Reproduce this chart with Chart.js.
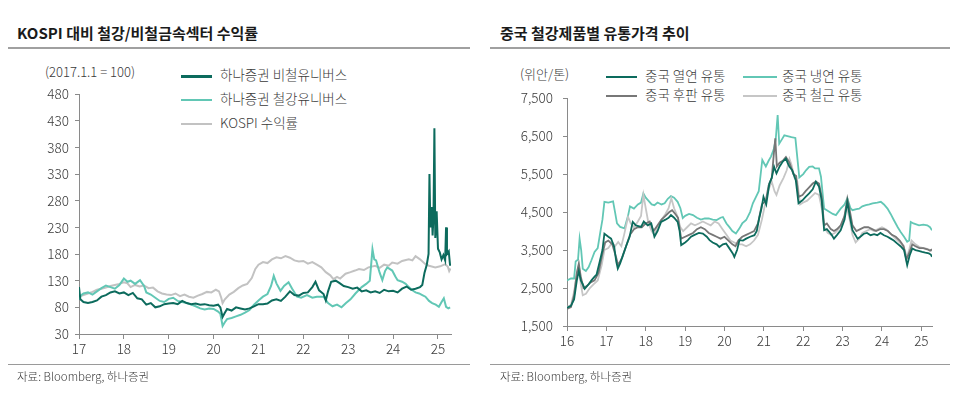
<!DOCTYPE html>
<html>
<head>
<meta charset="utf-8">
<script src="https://cdn.jsdelivr.net/npm/chart.js@4.4.1/dist/chart.umd.min.js"></script>
<style>
    body { margin: 0; width: 960px; height: 395px; background: #fff; position: relative; overflow: hidden;
           font-family: 'Noto Sans CJK KR', 'Noto Sans', sans-serif; color: #333; }
    .abs { position: absolute; white-space: nowrap; }
    .title { font-size: 15px; font-weight: bold; color: #1a1a1a; }
    .rule { height: 2px; background: #a0a0a0; }
    .rule.thin { height: 1px; background: #9a9a9a; }
    .source { font-size: 11.5px; color: #3a3a3a; font-weight: 300; }
    .unit { font-size: 13px; color: #3a3a3a; font-weight: 300; }
    .legend { font-size: 13.5px; color: #3a3a3a; line-height: 16px; font-weight: 300; }
    .legend i { display: inline-block; width: 31px; height: 0; vertical-align: middle; margin-right: 8px; }
    canvas { position: absolute; }
</style>
</head>
<body>
<div class="abs title" style="left:17px; top:22px;">KOSPI 대비 철강/비철금속섹터 수익률</div>
<div class="abs rule" style="left:8px; top:47px; width:462px;"></div>
<div class="abs unit" style="left:45px; top:62px;">(2017.1.1 = 100)</div>
<div class="abs legend" style="left:181px; top:66px;"><i style="border-top:3px solid #0c6b5d"></i>하나증권 비철유니버스</div>
<div class="abs legend" style="left:181px; top:90px;"><i style="border-top:2px solid #62c7b5"></i>하나증권 철강유니버스</div>
<div class="abs legend" style="left:181px; top:114px;"><i style="border-top:2px solid #c2c2c2"></i>KOSPI 수익률</div>
<canvas id="leftChart" width="470" height="290" style="left:0; top:80px;"></canvas>
<div class="abs rule thin" style="left:8px; top:364px; width:462px;"></div>
<div class="abs source" style="left:17px; top:368px;">자료: Bloomberg, 하나증권</div>

<div class="abs title" style="left:500px; top:22px;">중국 철강제품별 유통가격 추이</div>
<div class="abs rule" style="left:490px; top:47px; width:460px;"></div>
<div class="abs unit" style="left:520px; top:64px;">(위안/톤)</div>
<div class="abs legend" style="left:606px; top:67px;"><i style="border-top:2.5px solid #0c6b5d"></i>중국 열연 유통</div>
<div class="abs legend" style="left:743px; top:67px;"><i style="border-top:2px solid #62c7b5; width:34px; margin-right:5px"></i>중국 냉연 유통</div>
<div class="abs legend" style="left:606px; top:86px;"><i style="border-top:2.5px solid #777777"></i>중국 후판 유통</div>
<div class="abs legend" style="left:743px; top:86px;"><i style="border-top:2.5px solid #c6c6c6; width:34px; margin-right:5px"></i>중국 철근 유통</div>
<canvas id="rightChart" width="470" height="290" style="left:490px; top:80px;"></canvas>
<div class="abs rule thin" style="left:490px; top:364px; width:460px;"></div>
<div class="abs source" style="left:500px; top:368px;">자료: Bloomberg, 하나증권</div>

<script>
// ---- left chart data: [year, index] (2017.1.1 = 100)
const leftYearTicks = [17, 18, 19, 20, 21, 22, 23, 24, 25];
const leftValueTicks = [30, 80, 130, 180, 230, 280, 330, 380, 430, 480];

const nonFerrous = [
    [17.0, 118], [17.03, 95], [17.1, 90], [17.2, 88], [17.3, 90], [17.4, 93], [17.5, 100], [17.6, 103],
    [17.7, 108], [17.8, 110], [17.9, 106], [18.0, 108], [18.1, 103], [18.2, 107], [18.3, 97], [18.4, 95],
    [18.5, 85], [18.6, 88], [18.7, 80], [18.8, 82], [18.9, 86], [19.0, 87], [19.1, 88], [19.2, 86],
    [19.3, 92], [19.4, 88], [19.5, 86], [19.6, 87], [19.7, 85], [19.8, 86], [19.9, 84], [20.0, 83],
    [20.1, 85], [20.15, 80], [20.2, 62], [20.25, 70], [20.3, 77], [20.4, 74], [20.5, 80], [20.6, 78],
    [20.7, 76], [20.8, 78], [20.9, 82], [21.0, 86], [21.1, 86], [21.2, 87], [21.3, 93], [21.4, 95],
    [21.5, 92], [21.6, 100], [21.7, 110], [21.8, 103], [21.9, 102], [22.0, 107], [22.1, 108], [22.2, 118],
    [22.27, 128], [22.35, 112], [22.45, 105], [22.5, 93], [22.55, 110], [22.62, 128], [22.72, 130], [22.8, 126],
    [22.9, 120], [23.0, 118], [23.1, 115], [23.2, 117], [23.3, 110], [23.4, 112], [23.5, 108], [23.6, 110],
    [23.7, 107], [23.8, 113], [23.9, 110], [24.0, 111], [24.1, 108], [24.2, 115], [24.3, 119], [24.4, 113],
    [24.5, 115], [24.6, 118], [24.65, 122], [24.7, 145], [24.75, 160], [24.79, 180], [24.81, 330], [24.83, 230],
    [24.86, 268], [24.88, 215], [24.9, 250], [24.92, 416], [24.94, 210], [24.97, 260], [25.0, 190], [25.04, 183],
    [25.08, 170], [25.12, 178], [25.16, 168], [25.18, 230], [25.2, 180], [25.24, 185], [25.27, 158]
];

const steel = [
    [17.0, 95], [17.05, 103], [17.1, 106], [17.2, 108], [17.3, 104], [17.4, 110], [17.5, 116], [17.6, 121],
    [17.7, 118], [17.8, 115], [17.9, 122], [18.0, 134], [18.08, 128], [18.15, 130], [18.25, 124], [18.36, 131],
    [18.45, 120], [18.5, 108], [18.6, 104], [18.7, 98], [18.8, 92], [18.9, 90], [19.0, 96], [19.1, 98],
    [19.2, 92], [19.3, 90], [19.4, 88], [19.5, 85], [19.6, 82], [19.7, 78], [19.8, 76], [19.9, 78],
    [20.0, 77], [20.1, 72], [20.15, 68], [20.2, 45], [20.25, 52], [20.3, 58], [20.4, 60], [20.5, 63],
    [20.6, 66], [20.7, 70], [20.8, 75], [20.9, 85], [21.0, 93], [21.1, 100], [21.2, 105], [21.28, 120],
    [21.34, 139], [21.4, 125], [21.49, 111], [21.57, 120], [21.67, 127], [21.75, 115], [21.86, 100], [21.95, 98],
    [22.08, 103], [22.2, 98], [22.3, 100], [22.45, 100], [22.55, 88], [22.65, 82], [22.75, 85], [22.85, 80],
    [22.95, 88], [23.05, 95], [23.16, 106], [23.3, 118], [23.4, 124], [23.48, 130], [23.54, 189], [23.58, 170],
    [23.62, 168], [23.7, 145], [23.76, 131], [23.82, 148], [23.87, 155], [23.98, 149], [24.05, 138], [24.1, 131],
    [24.2, 128], [24.28, 124], [24.35, 118], [24.43, 112], [24.5, 108], [24.58, 106], [24.65, 103], [24.72, 100],
    [24.8, 92], [24.87, 88], [24.95, 85], [25.02, 81], [25.08, 90], [25.13, 97], [25.18, 81], [25.23, 78], [25.27, 80]
];

const kospi = [
    [17.0, 100], [17.1, 103], [17.2, 106], [17.3, 109], [17.4, 113], [17.5, 115], [17.6, 117], [17.7, 120],
    [17.8, 122], [17.9, 124], [18.0, 127], [18.08, 125], [18.15, 118], [18.25, 122], [18.35, 119], [18.45, 121],
    [18.55, 116], [18.65, 117], [18.75, 110], [18.85, 106], [18.95, 104], [19.05, 103], [19.15, 106], [19.25, 101],
    [19.35, 104], [19.45, 100], [19.55, 98], [19.65, 102], [19.75, 105], [19.85, 109], [19.95, 108], [20.05, 113],
    [20.12, 110], [20.17, 98], [20.2, 88], [20.25, 95], [20.35, 104], [20.45, 109], [20.55, 116], [20.65, 121],
    [20.75, 124], [20.85, 135], [20.93, 152], [21.0, 160], [21.1, 165], [21.2, 163], [21.3, 170], [21.4, 174],
    [21.5, 172], [21.6, 176], [21.7, 173], [21.8, 168], [21.9, 166], [22.0, 167], [22.1, 162], [22.2, 165],
    [22.3, 160], [22.4, 155], [22.5, 146], [22.6, 140], [22.67, 133], [22.75, 137], [22.82, 134], [22.94, 143],
    [23.05, 146], [23.15, 149], [23.24, 152], [23.35, 150], [23.45, 155], [23.6, 158], [23.7, 154], [23.8, 160],
    [23.9, 158], [23.98, 164], [24.1, 162], [24.2, 167], [24.35, 170], [24.43, 168], [24.5, 176], [24.6, 170],
    [24.72, 161], [24.8, 158], [24.94, 155], [25.05, 157], [25.16, 161], [25.22, 156], [25.25, 148], [25.28, 153]
];

// ---- right chart data: [year, yuan per ton]
const rightYearTicks = [16, 17, 18, 19, 20, 21, 22, 23, 24, 25];
const rightValueTicks = [1500, 2500, 3500, 4500, 5500, 6500, 7500];

const hotRolled = [
    [16.0, 1980], [16.1, 2030], [16.18, 2200], [16.25, 2700], [16.3, 2950], [16.35, 2700], [16.4, 2600], [16.45, 2480],
    [16.55, 2600], [16.62, 2700], [16.7, 2800], [16.75, 2850], [16.83, 3190], [16.9, 3500], [16.95, 3930], [17.05, 3850],
    [17.12, 3800], [17.2, 3580], [17.25, 3200], [17.29, 3010], [17.35, 3150], [17.42, 3360], [17.5, 3600], [17.59, 3850],
    [17.67, 4240], [17.75, 4150], [17.88, 4110], [17.95, 4250], [18.05, 4150], [18.14, 4200], [18.22, 3850], [18.3, 4000],
    [18.39, 4240], [18.5, 4300], [18.58, 4350], [18.64, 4420], [18.72, 4350], [18.81, 4240], [18.86, 4000], [18.9, 3630],
    [19.0, 3700], [19.07, 3760], [19.15, 3850], [19.24, 3900], [19.35, 3950], [19.45, 3935], [19.55, 3850], [19.62, 3760],
    [19.7, 3700], [19.8, 3650], [19.87, 3580], [19.96, 3650], [20.04, 3670], [20.12, 3550], [20.21, 3410], [20.25, 3320],
    [20.32, 3500], [20.38, 3760], [20.47, 3750], [20.55, 3800], [20.65, 3850], [20.76, 3890], [20.82, 4000], [20.88, 4330],
    [20.94, 4600], [20.99, 4900], [21.06, 4700], [21.14, 5250], [21.2, 5400], [21.26, 5690], [21.32, 5520], [21.4, 5700],
    [21.48, 5830], [21.56, 5910], [21.6, 5800], [21.65, 5690], [21.72, 5600], [21.81, 5340], [21.88, 4730], [21.98, 4810],
    [22.06, 4900], [22.15, 4990], [22.24, 5100], [22.32, 5300], [22.4, 5170], [22.47, 4800], [22.53, 4020], [22.6, 4050],
    [22.66, 3980], [22.72, 3900], [22.78, 3800], [22.86, 3900], [22.95, 4020], [23.05, 4300], [23.12, 4770], [23.18, 4400],
    [23.25, 4020], [23.32, 3900], [23.38, 3800], [23.45, 3850], [23.54, 3930], [23.62, 3950], [23.71, 3890], [23.8, 3920],
    [23.88, 3890], [23.96, 3950], [24.05, 3890], [24.14, 3850], [24.22, 3800], [24.3, 3750], [24.39, 3670], [24.47, 3600],
    [24.56, 3500], [24.6, 3300], [24.64, 3100], [24.7, 3350], [24.77, 3540], [24.85, 3500], [24.93, 3480], [25.02, 3450],
    [25.1, 3430], [25.19, 3410], [25.24, 3380], [25.27, 3320]
];

const coldRolled = [
    [16.0, 2700], [16.1, 2750], [16.18, 2750], [16.22, 3200], [16.28, 3250], [16.32, 3800], [16.36, 3500], [16.4, 3010],
    [16.48, 2950], [16.55, 3050], [16.62, 3230], [16.7, 3450], [16.78, 3550], [16.85, 4000], [16.9, 4300], [16.95, 4770],
    [17.05, 4750], [17.17, 4780], [17.22, 4500], [17.27, 4200], [17.35, 4110], [17.46, 4070], [17.55, 4400], [17.6, 4650],
    [17.7, 4590], [17.8, 4700], [17.88, 4750], [17.94, 4990], [18.0, 4880], [18.05, 4820], [18.15, 4700], [18.22, 4680],
    [18.3, 4750], [18.4, 4700], [18.48, 4730], [18.56, 4850], [18.64, 4920], [18.72, 4880], [18.81, 4770], [18.88, 4600],
    [18.94, 4340], [19.0, 4400], [19.1, 4450], [19.2, 4420], [19.3, 4350], [19.4, 4300], [19.5, 4330], [19.6, 4330],
    [19.7, 4300], [19.8, 4290], [19.9, 4350], [19.96, 4370], [20.05, 4200], [20.12, 4110], [20.2, 4000], [20.29, 3935],
    [20.38, 4070], [20.45, 4200], [20.55, 4290], [20.65, 4500], [20.72, 4730], [20.8, 4900], [20.87, 5050], [20.93, 5600],
    [20.96, 5870], [21.05, 5700], [21.12, 5850], [21.18, 5960], [21.25, 6150], [21.3, 6400], [21.35, 7055], [21.39, 6300],
    [21.45, 6400], [21.52, 6520], [21.6, 6500], [21.7, 6470], [21.8, 6450], [21.84, 6030], [21.9, 5410], [22.0, 5500],
    [22.07, 5600], [22.15, 5690], [22.24, 5700], [22.3, 5650], [22.4, 5650], [22.45, 5430], [22.53, 4590], [22.6, 4550],
    [22.66, 4510], [22.75, 4450], [22.83, 4420], [22.95, 4590], [23.05, 4700], [23.12, 4860], [23.2, 4600], [23.25, 4550],
    [23.35, 4580], [23.42, 4590], [23.5, 4650], [23.59, 4680], [23.68, 4700], [23.76, 4730], [23.88, 4750], [23.97, 4770],
    [24.05, 4700], [24.14, 4590], [24.22, 4450], [24.3, 4290], [24.4, 4100], [24.47, 3980], [24.56, 3850], [24.64, 3720],
    [24.69, 3750], [24.73, 4240], [24.8, 4200], [24.94, 4150], [25.05, 4170], [25.15, 4150], [25.22, 4100], [25.27, 4020]
];

const plate = [
    [16.0, 1950], [16.1, 2000], [16.18, 2300], [16.25, 2900], [16.3, 3140], [16.35, 2800], [16.42, 2500], [16.5, 2550],
    [16.6, 2650], [16.7, 2700], [16.8, 2900], [16.9, 3400], [16.97, 3700], [17.05, 3750], [17.15, 3650], [17.25, 3300],
    [17.3, 3100], [17.4, 3300], [17.5, 3600], [17.6, 3900], [17.7, 4050], [17.8, 4100], [17.9, 4100], [18.0, 4200],
    [18.1, 4250], [18.2, 4000], [18.3, 4150], [18.4, 4300], [18.5, 4400], [18.6, 4500], [18.67, 4550], [18.75, 4450],
    [18.82, 4350], [18.9, 3800], [19.0, 3850], [19.1, 3900], [19.2, 3950], [19.3, 4050], [19.4, 4100], [19.5, 4050],
    [19.6, 3950], [19.7, 3900], [19.8, 3850], [19.9, 3800], [20.0, 3850], [20.1, 3750], [20.2, 3650], [20.28, 3600],
    [20.35, 3750], [20.45, 3850], [20.55, 3900], [20.65, 3950], [20.75, 4000], [20.85, 4200], [20.95, 4700], [21.05, 4800],
    [21.12, 5200], [21.2, 5400], [21.25, 6000], [21.29, 6440], [21.33, 5700], [21.4, 5800], [21.48, 5850], [21.56, 5950],
    [21.65, 5800], [21.75, 5500], [21.82, 5450], [21.88, 4900], [21.98, 4950], [22.06, 5050], [22.15, 5150], [22.24, 5250],
    [22.32, 5300], [22.4, 5250], [22.47, 4900], [22.53, 4150], [22.6, 4200], [22.7, 4050], [22.78, 4000], [22.86, 4050],
    [22.95, 4150], [23.05, 4400], [23.12, 4850], [23.18, 4550], [23.25, 4150], [23.35, 4000], [23.45, 4050], [23.55, 4100],
    [23.65, 4100], [23.75, 4050], [23.85, 4000], [23.95, 4050], [24.05, 4050], [24.15, 4000], [24.25, 3900], [24.35, 3850],
    [24.45, 3750], [24.55, 3600], [24.62, 3250], [24.7, 3450], [24.77, 3650], [24.85, 3600], [24.95, 3550], [25.05, 3550],
    [25.15, 3520], [25.22, 3480], [25.27, 3520]
];

const rebar = [
    [16.0, 2000], [16.1, 2050], [16.18, 2400], [16.25, 2900], [16.3, 3100], [16.35, 2600], [16.4, 2310], [16.48, 2350],
    [16.58, 2500], [16.68, 2600], [16.78, 2700], [16.88, 3100], [16.95, 3500], [17.05, 3550], [17.15, 3700], [17.22, 3600],
    [17.3, 3710], [17.38, 3600], [17.45, 3900], [17.55, 4370], [17.62, 4200], [17.7, 4100], [17.8, 4250], [17.88, 4400],
    [17.94, 4950], [18.0, 4600], [18.07, 4200], [18.15, 4000], [18.22, 3900], [18.3, 4100], [18.4, 4300], [18.5, 4450],
    [18.58, 4600], [18.65, 4860], [18.72, 4600], [18.8, 4400], [18.88, 4100], [18.95, 4000], [19.05, 4100], [19.15, 4200],
    [19.25, 4150], [19.35, 4200], [19.45, 4250], [19.55, 4200], [19.65, 4150], [19.75, 4250], [19.85, 4200], [19.95, 4050],
    [20.05, 3900], [20.15, 3750], [20.25, 3700], [20.35, 3650], [20.45, 3650], [20.55, 3600], [20.65, 3650], [20.75, 3750],
    [20.85, 3900], [20.95, 4300], [21.05, 4800], [21.12, 5100], [21.2, 5300], [21.27, 5050], [21.32, 4950], [21.4, 5200],
    [21.5, 5400], [21.58, 5600], [21.65, 5900], [21.7, 5750], [21.78, 5400], [21.85, 5300], [21.92, 4700], [22.0, 4750],
    [22.1, 4800], [22.2, 4900], [22.3, 5000], [22.4, 4950], [22.47, 4600], [22.53, 4100], [22.62, 3950], [22.7, 3900],
    [22.8, 3950], [22.9, 4050], [23.0, 4200], [23.1, 4650], [23.18, 4300], [23.25, 3900], [23.33, 3700], [23.42, 3800],
    [23.5, 3950], [23.6, 4000], [23.7, 4050], [23.8, 4000], [23.9, 4050], [24.0, 4100], [24.1, 4050], [24.2, 3950],
    [24.3, 3850], [24.4, 3750], [24.5, 3650], [24.58, 3500], [24.63, 3300], [24.7, 3550], [24.75, 3750], [24.85, 3650],
    [24.95, 3580], [25.05, 3550], [25.15, 3530], [25.22, 3500], [25.27, 3480]
];

const FONT = "'Noto Sans CJK KR', 'Noto Sans', sans-serif";
const AXIS_COLOR = '#8a8a8a';

// turn [year, value] pairs into chart.js points
function toPoints(pairs) {
    return pairs.map(p => ({ x: p[0], y: p[1] }));
}

function lineSet(label, pairs, color, width, order) {
    return {
        label: label,
        data: toPoints(pairs),
        borderColor: color,
        borderWidth: width,
        pointRadius: 0,
        tension: 0,
        fill: false,
        order: order
    };
}

function makeChart(canvasId, datasets, opts) {
    const ctx = document.getElementById(canvasId).getContext('2d');
    const tickFont = { family: FONT, size: 13.5, weight: '300' };
    return new Chart(ctx, {
        type: 'line',
        data: { datasets: datasets },
        options: {
            responsive: false,
            animation: false,
            devicePixelRatio: 1,
            layout: { padding: opts.padding },
            plugins: { legend: { display: false }, tooltip: { enabled: false } },
            scales: {
                x: {
                    type: 'linear',
                    min: opts.xMin,
                    max: opts.xMax,
                    afterBuildTicks: scale => { scale.ticks = opts.xTicks.map(v => ({ value: v })); },
                    afterFit: scale => { scale.height = 30; },
                    grid: { display: true, drawOnChartArea: false, drawTicks: true, tickLength: 5, color: AXIS_COLOR },
                    border: { display: true, color: AXIS_COLOR, width: 1 },
                    ticks: { font: tickFont, color: '#3a3a3a', padding: 2, maxRotation: 0,
                             callback: v => String(v) }
                },
                y: {
                    min: opts.yMin,
                    max: opts.yMax,
                    afterBuildTicks: scale => { scale.ticks = opts.yTicks.map(v => ({ value: v })); },
                    afterFit: scale => { scale.width = opts.yWidth; },
                    grid: { display: true, drawOnChartArea: false, drawTicks: true, tickLength: 4, color: AXIS_COLOR },
                    border: { display: true, color: AXIS_COLOR, width: 1 },
                    ticks: { font: tickFont, color: '#3a3a3a', padding: opts.yPad,
                             callback: opts.yFormat }
                }
            }
        }
    });
}

makeChart('leftChart', [
    lineSet('하나증권 비철유니버스', nonFerrous, '#0c6b5d', 2, 1),
    lineSet('하나증권 철강유니버스', steel, '#62c7b5', 2, 2),
    lineSet('KOSPI 수익률', kospi, '#c2c2c2', 2, 3)
], {
    padding: { left: 0, right: 19, top: 12, bottom: 6 },
    xMin: 17, xMax: 25.29, xTicks: leftYearTicks,
    yMin: 30, yMax: 480, yTicks: leftValueTicks, yWidth: 79, yPad: 6,
    yFormat: v => String(v)
});

makeChart('rightChart', [
    lineSet('중국 열연 유통', hotRolled, '#0c6b5d', 1.8, 1),
    lineSet('중국 후판 유통', plate, '#777777', 1.8, 2),
    lineSet('중국 철근 유통', rebar, '#c6c6c6', 1.8, 3),
    lineSet('중국 냉연 유통', coldRolled, '#62c7b5', 1.8, 4)
], {
    padding: { left: 0, right: 28, top: 18, bottom: 14 },
    xMin: 16, xMax: 25.27, xTicks: rightYearTicks,
    yMin: 1500, yMax: 7500, yTicks: rightValueTicks, yWidth: 77, yPad: 10,
    yFormat: v => v.toLocaleString('en-US')
});
</script>
</body>
</html>
